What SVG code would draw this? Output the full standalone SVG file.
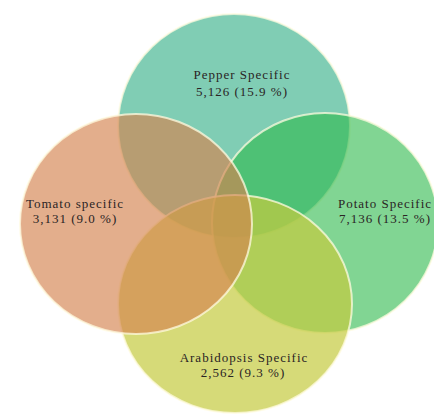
<svg xmlns="http://www.w3.org/2000/svg" width="434" height="414" viewBox="0 0 434 414">
<style>
.c{stroke:#fffbe0;stroke-opacity:0.75;stroke-width:2}
.t{font-family:"Liberation Serif","DejaVu Serif",serif;font-size:13px;letter-spacing:1px;fill:#2a2424;text-anchor:middle}
</style>
<rect width="434" height="414" fill="#ffffff"/>
<g id="pepper"><ellipse class="c" cx="234" cy="126" rx="116" ry="112" fill="rgb(96,192,161)" fill-opacity="0.8"/></g>
<g id="potato"><ellipse class="c" cx="325" cy="223" rx="113" ry="110" fill="rgb(45,185,75)" fill-opacity="0.6"/></g>
<g id="arabidopsis"><ellipse class="c" cx="235" cy="304" rx="117" ry="109" fill="rgb(196,202,62)" fill-opacity="0.7"/></g>
<g id="tomato"><ellipse class="c" cx="136" cy="224" rx="116" ry="110" fill="rgb(212,130,78)" fill-opacity="0.65"/></g>
<g id="labels">
<text class="t" x="242" y="79">Pepper Specific</text>
<text class="t" x="242" y="96">5,126 (15.9 %)</text>
<text class="t" x="75" y="208">Tomato specific</text>
<text class="t" x="75" y="223">3,131 (9.0 %)</text>
<text class="t" x="385" y="208">Potato Specific</text>
<text class="t" x="385" y="223">7,136 (13.5 %)</text>
<text class="t" x="244" y="362">Arabidopsis Specific</text>
<text class="t" x="243" y="377">2,562 (9.3 %)</text>
</g>
<g id="connectors"/>
</svg>
